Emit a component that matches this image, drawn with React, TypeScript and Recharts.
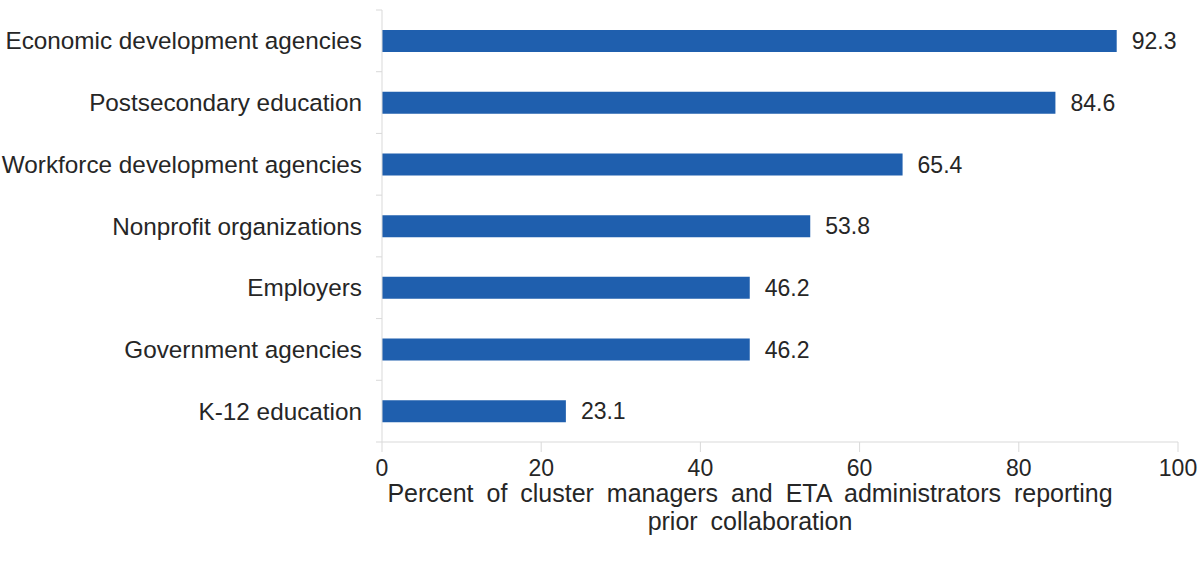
import React from "react";
import { BarChart, Bar, XAxis, YAxis, LabelList } from "recharts";

const categories = [
  "Economic development agencies",
  "Postsecondary education",
  "Workforce development agencies",
  "Nonprofit organizations",
  "Employers",
  "Government agencies",
  "K-12 education",
];
const values = [92.3, 84.6, 65.4, 53.8, 46.2, 46.2, 23.1];
const xTicks = [0, 20, 40, 60, 80, 100];
const titleLines = [
  "Percent of cluster managers and ETA administrators reporting",
  "prior collaboration",
];

const data = categories.map((name, i) => ({ name, value: values[i] }));

const FONT = "'Liberation Sans', Arial, sans-serif";
const AXIS = "#d9d9d9";
const TEXT = "#262626";

const CatTick = (props: any) => {
  const { x, y, payload, index, visibleTicksCount } = props;
  const off = payload.offset ?? 0;
  const ax = x + 20;
  return (
    <g>
      <line x1={ax - 6} x2={ax} y1={y - off} y2={y - off} stroke={AXIS} strokeWidth={1} />
      {index === visibleTicksCount - 1 && (
        <line x1={ax - 6} x2={ax} y1={y + off} y2={y + off} stroke={AXIS} strokeWidth={1} />
      )}
      <text x={x} y={y} dy="0.355em" textAnchor="end" fill={TEXT} fontSize={24.3} fontFamily={FONT}>
        {payload.value}
      </text>
    </g>
  );
};

const TitleLabel = (props: any) => {
  const { viewBox } = props;
  const cx = viewBox.x + viewBox.width / 2 - 30;
  const y0 = viewBox.y;
  return (
    <text textAnchor="middle" fill={TEXT} fontSize={25} fontFamily={FONT} style={{ wordSpacing: 6 }}>
      {titleLines.map((t, i) => (
        <tspan key={i} x={cx} y={y0 + 60 + i * 28}>
          {t}
        </tspan>
      ))}
    </text>
  );
};

export default function App() {
  return (
    <div style={{ position: "absolute", left: 0, top: 0, width: 1204, height: 561, background: "#fff" }}>
      <BarChart
        width={1204}
        height={561}
        data={data}
        layout="vertical"
        margin={{ top: 10, right: 26, left: 0, bottom: 0 }}
      >
        <XAxis
          type="number"
          domain={[0, 100]}
          ticks={xTicks}
          axisLine={{ stroke: AXIS }}
          tickLine={{ stroke: AXIS }}
          tickSize={10}
          tickMargin={8}
          height={119}
          tick={{ fill: TEXT, fontSize: 23, fontFamily: FONT }}
          label={<TitleLabel />}
        />
        <YAxis
          type="category"
          dataKey="name"
          width={382}
          axisLine={{ stroke: AXIS }}
          tickLine={false}
          tickSize={0}
          tickMargin={20}
          tick={<CatTick />}
          interval={0}
        />
        <Bar dataKey="value" fill="#1f5fae" barSize={22} isAnimationActive={false}>
          <LabelList
            dataKey="value"
            position="right"
            offset={15}
            fill={TEXT}
            fontSize={23}
            fontFamily={FONT}
          />
        </Bar>
      </BarChart>
    </div>
  );
}
